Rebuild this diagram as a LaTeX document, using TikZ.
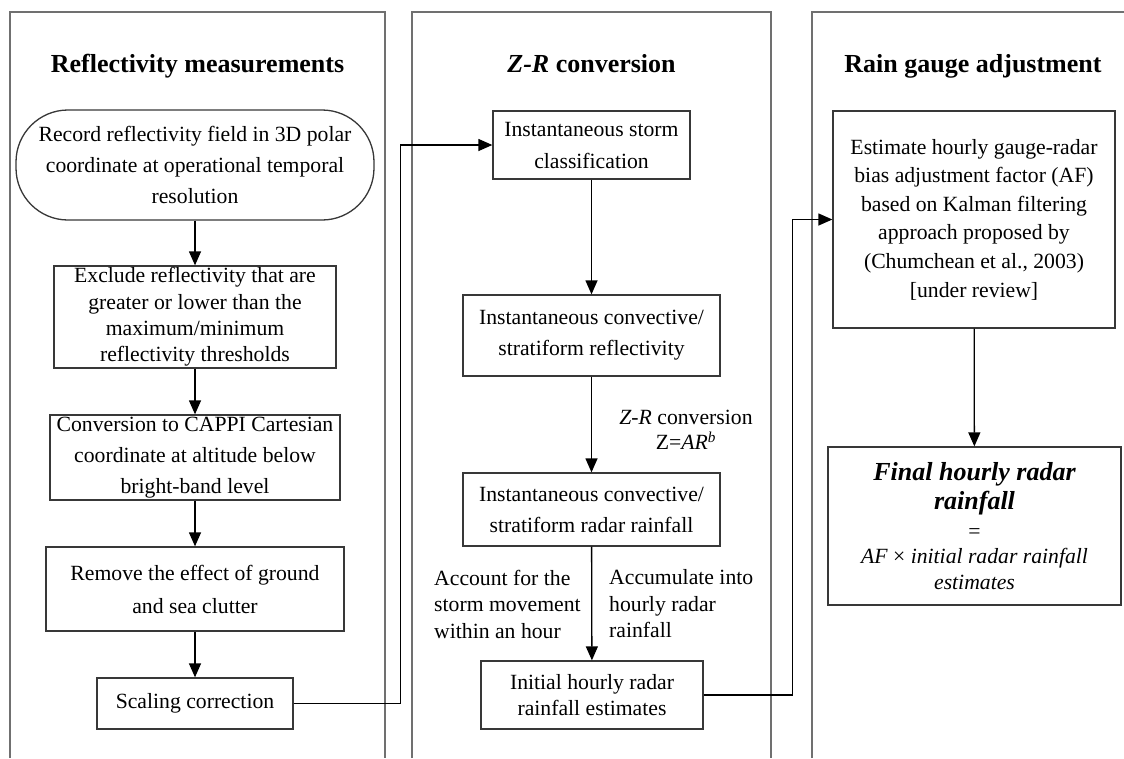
\documentclass[tikz,border=0pt]{standalone}
\usepackage{fontspec}
\setmainfont{Liberation Serif}
\usetikzlibrary{arrows.meta,positioning}
\definecolor{panelgray}{HTML}{707070}
\definecolor{boxgray}{HTML}{383838}
\begin{document}
\begin{tikzpicture}[x=1pt,y=-1pt,
  panel/.style={draw=panelgray,line width=1.3pt},
  title/.style={font=\bfseries\fontsize{26}{30}\selectfont,anchor=base},
  procbox/.style={draw=boxgray,line width=1.3pt,inner sep=0pt,align=center,
    font=\fontsize{21.7}{31}\selectfont},
  lbl/.style={inner sep=0pt,font=\fontsize{21.7}{26.5}\selectfont},
  arr/.style={draw=black,line width=1.3pt,-{Triangle[length=14pt,width=12pt]}}
]
\useasboundingbox[fill=white] (0,0) rectangle (1124,758);

% panels
\draw[panel] (10,758) -- (10,12) -- (385,12) -- (385,758);
\draw[panel] (412,758) -- (412,12) -- (771,12) -- (771,758);
\draw[panel] (812,758) -- (812,12) -- (1124,12);

% titles
\node[title] (t1) at (197.5,72) {Reflectivity measurements};
\node[title] (t2) at (591.5,72) {\textit{Z-R} conversion};
\node[title] (t3) at (973,72) {Rain gauge adjustment};

% column 1
\node[procbox,rounded corners=52pt,minimum width=358pt,minimum height=110pt] (n1) at (195,165)
  {Record reflectivity field in 3D polar\\coordinate at operational temporal\\resolution};
\node[procbox,minimum width=282pt,minimum height=102pt,font=\fontsize{21.7}{26.3}\selectfont] (n2) at (195,317)
  {Exclude reflectivity that are\\greater or lower than the\\maximum/minimum\\reflectivity thresholds};
\node[procbox,minimum width=290pt,minimum height=85pt] (n3) at (195,457.5)
  {Conversion to CAPPI Cartesian\\coordinate at altitude below\\bright-band level};
\node[procbox,minimum width=298pt,minimum height=84pt,font=\fontsize{21.7}{33}\selectfont] (n4) at (195,589)
  {Remove the effect of ground\\and sea clutter};
\node[procbox,minimum width=196pt,minimum height=51pt] (n5) at (195,703.5)
  {Scaling correction};

% column 2
\node[procbox,minimum width=197pt,minimum height=68pt,font=\fontsize{21.7}{32}\selectfont] (n6) at (591.5,145)
  {Instantaneous storm\\classification};
\node[procbox,minimum width=257pt,minimum height=81pt] (n7) at (591.5,335.5)
  {Instantaneous convective/\\stratiform reflectivity};
\node[procbox,minimum width=257pt,minimum height=73pt] (n8) at (591.5,509.5)
  {Instantaneous convective/\\stratiform radar rainfall};
\node[procbox,minimum width=222pt,minimum height=68pt,font=\fontsize{21.7}{26.5}\selectfont] (n9) at (592,695)
  {Initial hourly radar\\rainfall estimates};

\node[lbl,align=center,font=\fontsize{21.7}{25}\selectfont] (zr) at (686,430)
  {\textit{Z-R} conversion\\Z=\textit{AR}\textsuperscript{\textit{b}}};
\node[lbl,align=left,anchor=west] (acc1) at (434,604)
  {Account for the\\storm movement\\within an hour};
\node[lbl,align=left,anchor=west] (acc2) at (609,604)
  {Accumulate into\\hourly radar\\rainfall};

% column 3
\node[procbox,minimum width=282pt,minimum height=217pt,font=\fontsize{21.7}{28.6}\selectfont] (n10) at (974,219.5)
  {Estimate hourly gauge-radar\\bias adjustment factor (AF)\\based on Kalman filtering\\approach proposed by\\(Chumchean et al., 2003)\\{}[under review]};
\node[procbox,minimum width=293pt,minimum height=158pt,font=\fontsize{21.7}{26}\selectfont] (n11) at (974.5,526)
  {{\fontsize{26}{26}\selectfont\bfseries\itshape Final hourly radar}\\[3pt]
   {\fontsize{26}{26}\selectfont\bfseries\itshape rainfall}\\[3pt]
   =\\[-1pt]
   \textit{AF} × \textit{initial radar rainfall}\\
   \textit{estimates}};

% arrows
\draw[arr] (n1) -- (n2);
\draw[arr] (n2) -- (n3);
\draw[arr] (n3) -- (n4);
\draw[arr] (n4) -- (n5);
\draw[arr] (n5.east) -- ++(107,0) |- (n6.west);
\draw[arr] (n6) -- (n7);
\draw[arr] (n7) -- (n8);
\draw[arr] (n8) -- (n9);
\draw[arr] (n9.east) -- ++(89,0) |- (n10.west);
\draw[arr] (n10) -- (n11);
\end{tikzpicture}
\end{document}
